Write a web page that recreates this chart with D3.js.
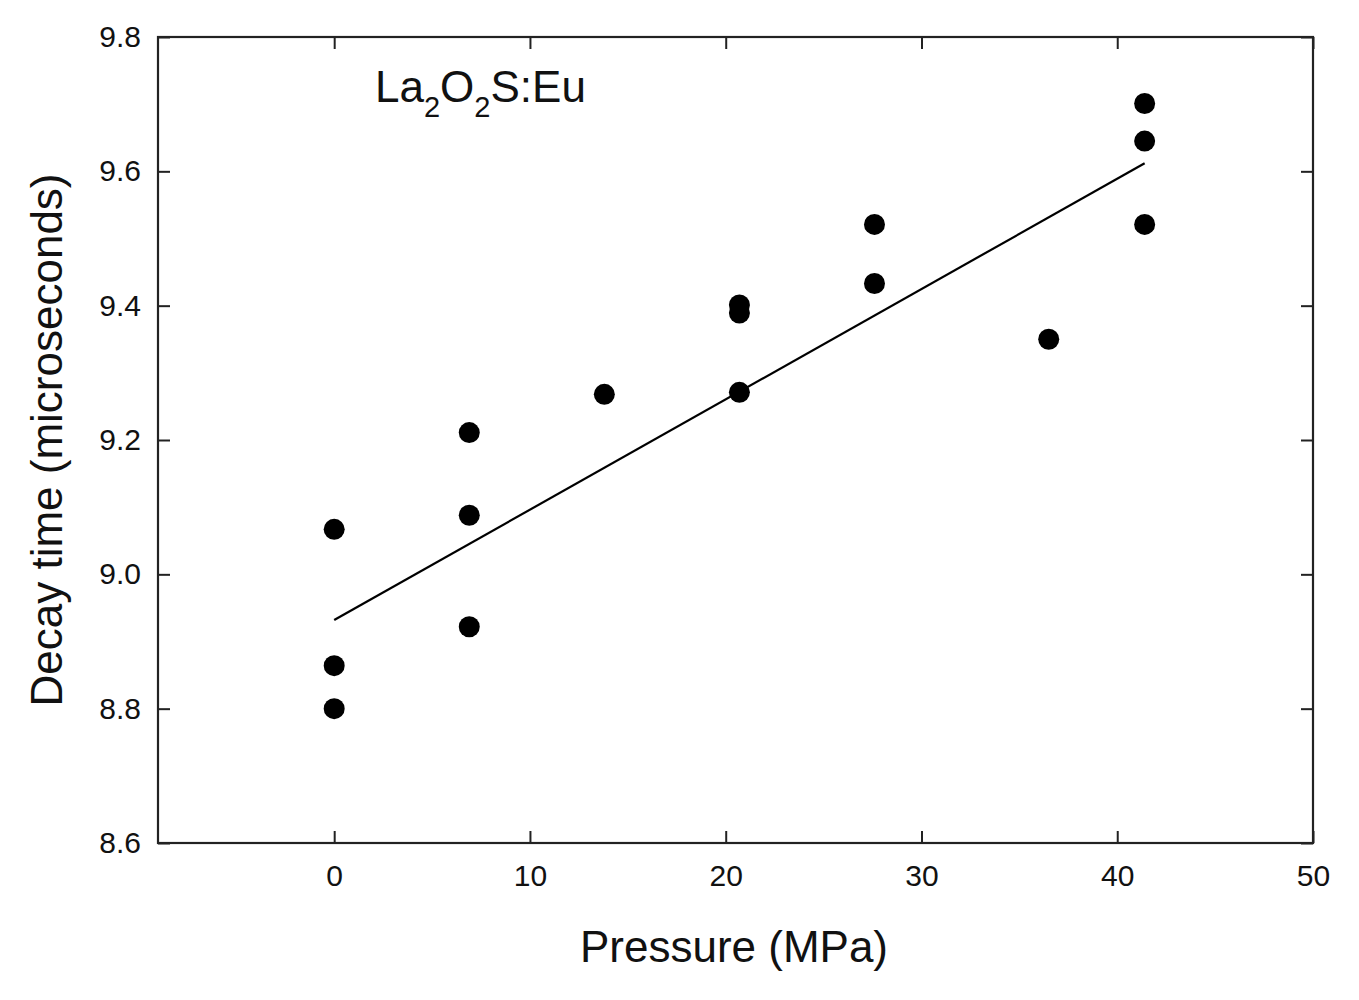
<!DOCTYPE html>
<html>
<head>
<meta charset="utf-8">
<script src="https://cdn.jsdelivr.net/npm/d3@7"></script>
<style>
  body { margin: 0; background: #fff; }
  text { font-family: "Liberation Sans", Arial, sans-serif; fill: #111; }
</style>
</head>
<body>
<svg id="chart" width="1359" height="1000"></svg>
<script>
// measured points (pressure in MPa, decay time in microseconds)
const pressure = [0, 0, 0, 6.9, 6.9, 6.9, 13.8, 20.7, 20.7, 20.7, 27.6, 27.6, 36.5, 41.4, 41.4, 41.4];
const decay = [9.067, 8.864, 8.80, 9.211, 9.088, 8.922, 9.268, 9.401, 9.389, 9.271, 9.521, 9.433, 9.35, 9.701, 9.645, 9.521];

// fitted line end points
const fitX = [0, 41.4];
const fitY = [8.932, 9.612];

const xTicks = [0, 10, 20, 30, 40, 50];
const yTicks = [8.6, 8.8, 9.0, 9.2, 9.4, 9.6, 9.8];

const svg = d3.select('#chart');
const width = +svg.attr('width');
const height = +svg.attr('height');
const margin = { top: 37, right: 46, bottom: 157, left: 158 };
const innerWidth = width - margin.left - margin.right;
const innerHeight = height - margin.top - margin.bottom;

const x = d3.scaleLinear().domain([-9, 50]).range([0, innerWidth]);
const y = d3.scaleLinear().domain([8.6, 9.8]).range([innerHeight, 0]);

const g = svg.append('g')
    .attr('transform', 'translate(' + margin.left + ',' + margin.top + ')');

// axes, ticks pointing inwards
const xAxisBottom = g.append('g')
    .attr('transform', 'translate(0,' + innerHeight + ')')
    .call(d3.axisBottom(x).tickValues(xTicks).tickSizeInner(-12).tickSizeOuter(0).tickPadding(22));
const xAxisTop = g.append('g')
    .call(d3.axisTop(x).tickValues(xTicks).tickSizeInner(-12).tickSizeOuter(0));
const yAxisLeft = g.append('g')
    .call(d3.axisLeft(y).tickValues(yTicks).tickSizeInner(-12).tickSizeOuter(0).tickPadding(17)
        .tickFormat(d3.format('.1f')));
const yAxisRight = g.append('g')
    .attr('transform', 'translate(' + innerWidth + ',0)')
    .call(d3.axisRight(y).tickValues(yTicks).tickSizeInner(-12).tickSizeOuter(0));

// top and right axes carry ticks only
xAxisTop.selectAll('text').remove();
yAxisRight.selectAll('text').remove();

[xAxisBottom, xAxisTop, yAxisLeft, yAxisRight].forEach(a => {
    a.attr('font-size', 30).attr('font-family', '"Liberation Sans", Arial, sans-serif');
    a.select('.domain').remove();
    a.selectAll('line').attr('stroke', '#222').attr('stroke-width', 2);
    a.selectAll('text').attr('fill', '#111');
});

// frame
g.append('rect')
    .attr('x', 0).attr('y', 0)
    .attr('width', innerWidth).attr('height', innerHeight)
    .attr('fill', 'none')
    .attr('stroke', '#222')
    .attr('stroke-width', 2.2);

// fitted line
const line = d3.line()
    .x(d => x(d[0]))
    .y(d => y(d[1]));
g.append('path')
    .datum(d3.zip(fitX, fitY))
    .attr('d', line)
    .attr('fill', 'none')
    .attr('stroke', '#000')
    .attr('stroke-width', 2.2);

// points
g.append('g')
    .selectAll('circle')
    .data(d3.zip(pressure, decay))
    .enter().append('circle')
    .attr('cx', d => x(d[0]))
    .attr('cy', d => y(d[1]))
    .attr('r', 10.5)
    .attr('fill', '#000');

// axis titles
svg.append('text')
    .attr('x', 734)
    .attr('y', 962)
    .attr('text-anchor', 'middle')
    .attr('font-size', 44)
    .text('Pressure (MPa)');

svg.append('text')
    .attr('transform', 'translate(62,440) rotate(-90)')
    .attr('text-anchor', 'middle')
    .attr('font-size', 44)
    .text('Decay time (microseconds)');

// sample label with subscripts
const label = svg.append('text')
    .attr('x', 375)
    .attr('y', 102)
    .attr('font-size', 44);
label.append('tspan').text('La');
label.append('tspan').attr('dy', 15).attr('font-size', 29).text('2');
label.append('tspan').attr('dy', -15).text('O');
label.append('tspan').attr('dy', 15).attr('font-size', 29).text('2');
label.append('tspan').attr('dy', -15).text('S:Eu');
</script>
</body>
</html>
